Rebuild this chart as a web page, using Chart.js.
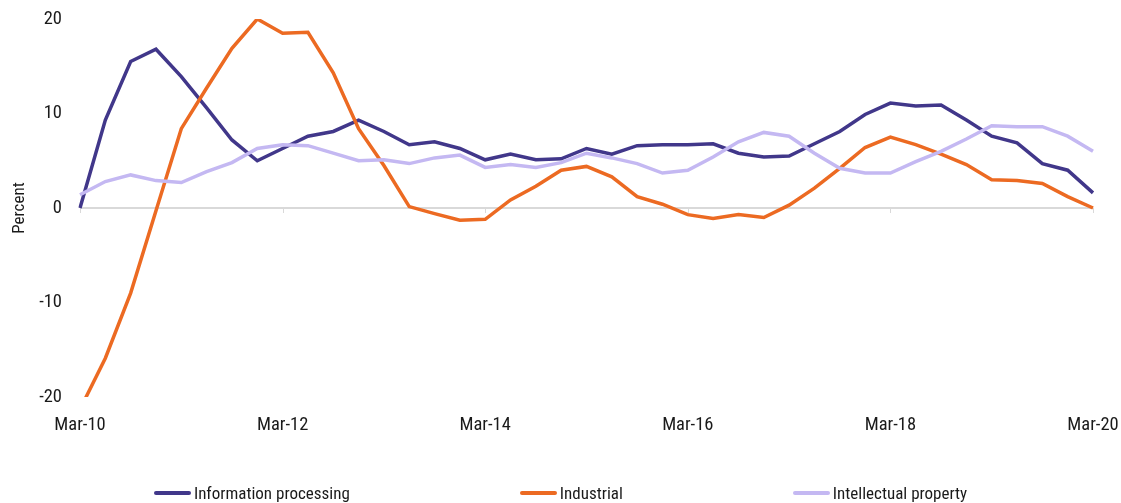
<!DOCTYPE html>
<html>
<head>
<meta charset="utf-8">
<script src="https://cdn.jsdelivr.net/npm/chart.js@4.4.1/dist/chart.umd.min.js"></script>
<style>
    html, body { margin: 0; padding: 0; background: #ffffff; }
    #wrap { position: relative; width: 1121px; height: 503px; }
    #legend {
        position: absolute; left: 0; top: 482px; width: 1121px;
        display: flex; justify-content: center; gap: 170px;
        font-family: "Roboto Condensed", Roboto, sans-serif;
        font-size: 17px; color: #1a1a1a; line-height: 22px;
    }
    .item { display: flex; align-items: center; }
    .swatch { width: 37px; height: 4px; border-radius: 2px; margin-right: 3px; }
</style>
</head>
<body>
<div id="wrap">
    <canvas id="grafico"></canvas>
    <div id="legend"></div>
</div>
<script>
// trimestres Mar-10 .. Mar-20
const meses = ["Mar", "Jun", "Sep", "Dec"];
const etiquetas = [];
for (let a = 10; a <= 20; a++) {
    for (const m of meses) {
        if (a === 20 && m !== "Mar") break;
        etiquetas.push(m + "-" + a);
    }
}

const infoProcessing = [0, 9.3, 15.5, 16.8, 13.9, 10.6, 7.2, 5.0, 6.3, 7.6, 8.1, 9.3, 8.1, 6.7, 7.0, 6.3, 5.1, 5.7, 5.1, 5.2, 6.3, 5.7, 6.6, 6.7, 6.7, 6.8, 5.8, 5.4, 5.5, 6.8, 8.1, 9.9, 11.1, 10.8, 10.9, 9.3, 7.6, 6.9, 4.7, 4.0, 1.6];
const industrial = [-21.3, -15.9, -9.0, -0.3, 8.4, 12.7, 16.9, 20.0, 18.5, 18.6, 14.3, 8.4, 4.5, 0.15, -0.6, -1.3, -1.2, 0.85, 2.3, 4.0, 4.4, 3.3, 1.2, 0.4, -0.7, -1.1, -0.7, -1.0, 0.3, 2.1, 4.2, 6.4, 7.5, 6.7, 5.7, 4.6, 3.0, 2.9, 2.6, 1.2, 0.0];
const intellectual = [1.4, 2.8, 3.5, 2.9, 2.7, 3.85, 4.8, 6.3, 6.7, 6.6, 5.8, 5.0, 5.1, 4.7, 5.3, 5.6, 4.3, 4.6, 4.3, 4.8, 5.8, 5.3, 4.7, 3.7, 4.0, 5.4, 7.0, 8.0, 7.6, 5.8, 4.2, 3.7, 3.7, 4.9, 6.0, 7.3, 8.7, 8.6, 8.6, 7.6, 6.0];

const series = ["Information processing", "Industrial", "Intellectual property"];
const colores = ["#41378a", "#ec6a22", "#c4b8f2"];
const yTicks = [-20, -10, 0, 10, 20];

const fuente = "'Roboto Condensed', Roboto, sans-serif";

// marcas pequeñas sobre la linea del cero
const marcasCero = {
    id: "marcasCero",
    beforeDatasetsDraw(chart) {
        const { ctx, scales: { x, y } } = chart;
        const y0 = y.getPixelForValue(0);
        ctx.save();
        ctx.strokeStyle = "#d9d9d9";
        ctx.lineWidth = 1;
        etiquetas.forEach((e, i) => {
            if (i % 8 !== 0) return;
            const px = Math.round(x.getPixelForValue(i)) + 0.5;
            ctx.beginPath();
            ctx.moveTo(px, y0);
            ctx.lineTo(px, y0 + 5);
            ctx.stroke();
        });
        ctx.restore();
    }
};

const valores = [infoProcessing, industrial, intellectual];

new Chart(document.getElementById("grafico"), {
    type: "line",
    data: {
        labels: etiquetas,
        datasets: series.map((s, i) => ({
            label: s,
            data: valores[i],
            borderColor: colores[i],
            backgroundColor: colores[i],
            borderWidth: 3.5,
            pointRadius: 0,
            tension: 0,
            order: 3 - i
        }))
    },
    options: {
        responsive: true,
        maintainAspectRatio: false,
        animation: false,
        layout: { padding: { top: 19, right: 28, left: 0, bottom: 0 } },
        plugins: {
            legend: { display: false },
            tooltip: { enabled: false }
        },
        scales: {
            x: {
                grid: { display: false, drawTicks: false },
                border: { display: false },
                ticks: {
                    autoSkip: false,
                    maxRotation: 0,
                    padding: 17,
                    color: "#1a1a1a",
                    font: { family: fuente, size: 18.5 },
                    callback: (v, i) => (i % 8 === 0 ? etiquetas[i] : "")
                },
                afterFit: (scale) => {
                    scale.height = 106;
                    scale.paddingLeft = 0;
                    scale.paddingRight = 0;
                }
            },
            y: {
                min: -20,
                max: 20,
                afterBuildTicks: (scale) => { scale.ticks = yTicks.map(v => ({ value: v })); },
                grid: {
                    drawTicks: false,
                    color: (c) => (c.tick && c.tick.value === 0 ? "#d9d9d9" : "rgba(0,0,0,0)"),
                    lineWidth: 2
                },
                border: { display: false },
                ticks: {
                    padding: 18,
                    color: "#1a1a1a",
                    font: { family: fuente, size: 18.5 }
                },
                title: {
                    display: true,
                    text: "Percent",
                    color: "#1a1a1a",
                    font: { family: fuente, size: 17 },
                    padding: { top: 10, bottom: 0 }
                },
                afterFit: (scale) => {
                    scale.width = 80;
                    scale.paddingTop = 0;
                    scale.paddingBottom = 0;
                }
            }
        }
    },
    plugins: [marcasCero]
});

// leyenda en HTML
const leyenda = document.getElementById("legend");
series.forEach((s, i) => {
    const item = document.createElement("div");
    item.className = "item";
    const sw = document.createElement("span");
    sw.className = "swatch";
    sw.style.background = colores[i];
    const txt = document.createElement("span");
    txt.textContent = s;
    item.appendChild(sw);
    item.appendChild(txt);
    leyenda.appendChild(item);
});
</script>
</body>
</html>
